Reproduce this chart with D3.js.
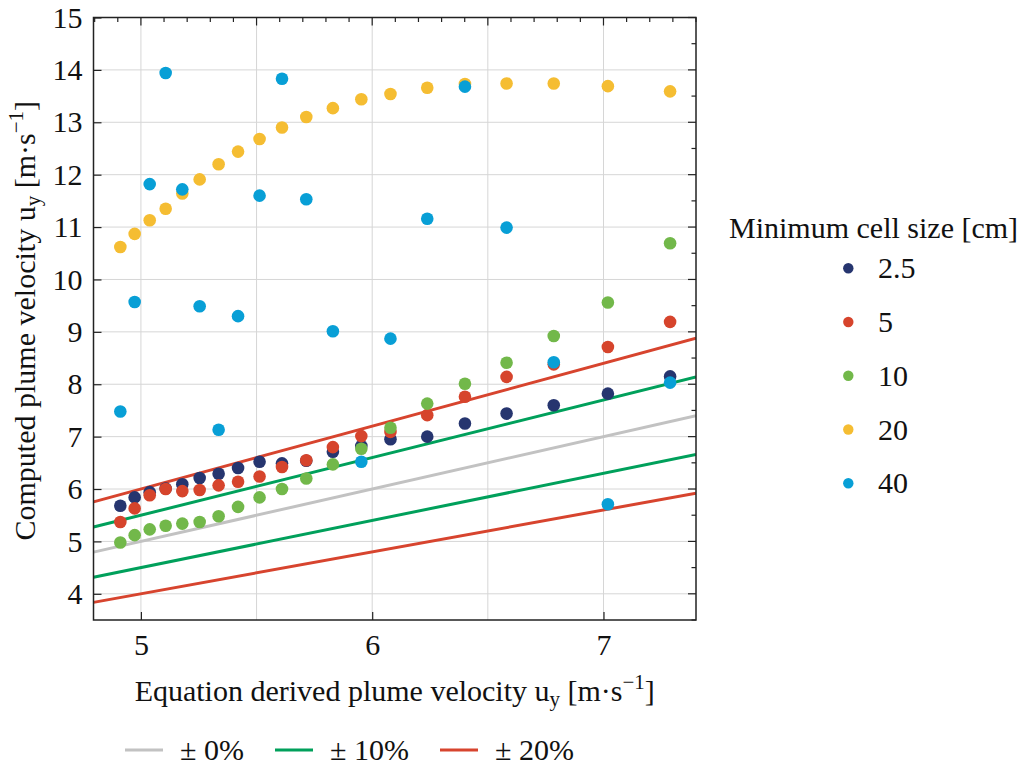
<!DOCTYPE html>
<html>
<head>
<meta charset="utf-8">
<script src="https://cdn.jsdelivr.net/npm/d3@7"></script>
<style>
  @font-face { font-family: "ChartSerif"; src: local("Liberation Serif"), local("LiberationSerif"), local("LiberationSerif-Regular"), local("Times New Roman"), local("Tinos"); }
  html, body { margin: 0; padding: 0; background: #fff; }
</style>
</head>
<body>
<svg id="chart" width="1029" height="767"></svg>
<script>
// ---- data ----
const xValues = [4.911, 4.973, 5.038, 5.107, 5.179, 5.254, 5.336, 5.420, 5.513, 5.610,
                 5.715, 5.830, 5.953, 6.079, 6.238, 6.401, 6.581, 6.785, 7.019, 7.288];
const cellSizes = ["2.5", "5", "10", "20", "40"];
const series25 = [5.68, 5.84, 5.94, 6.01, 6.09, 6.21, 6.29, 6.40, 6.52, 6.49,
                  6.54, 6.71, 6.82, 6.95, 7.00, 7.25, 7.44, 7.60, 7.82, 8.15];
const series5  = [5.37, 5.63, 5.88, 6.00, 5.96, 5.98, 6.07, 6.14, 6.24, 6.42,
                  6.55, 6.80, 7.01, 7.09, 7.41, 7.76, 8.14, 8.38, 8.71, 9.19];
const series10 = [4.98, 5.12, 5.23, 5.30, 5.34, 5.37, 5.48, 5.66, 5.84, 6.00,
                  6.20, 6.47, 6.77, 7.17, 7.63, 8.01, 8.41, 8.92, 9.56, 10.69];
const series20 = [10.62, 10.87, 11.13, 11.35, 11.64, 11.91, 12.20, 12.44, 12.68, 12.90,
                  13.10, 13.27, 13.44, 13.54, 13.66, 13.73, 13.74, 13.74, 13.69, 13.59];
const series40 = [7.48, 9.57, 11.82, 13.94, 11.72, 9.49, 7.13, 9.30, 11.60, 13.83,
                  11.53, 9.01, 6.52, 8.87, 11.16, 13.68, 10.99, 8.42, 5.71, 8.03];
const bandFactors = [0, 0.10, 0.20];
const bandLabels = ["± 0%", "± 10%", "± 20%"];
const xTickLabels = [5, 6, 7];
const yTickLabels = [4, 5, 6, 7, 8, 9, 10, 11, 12, 13, 14, 15];

// ---- styles ----
const FAM = '"Liberation Serif"';
const seriesColors = ["#26356f", "#d6442c", "#72b84a", "#f5bd32", "#089fd6"];
const bandColors = ["#c2c2c2", "#00a05b", "#d7442e"];
const allSeries = [series25, series5, series10, series20, series40];

function serif(sel) {
  return sel.style("font-family", FAM);
}

const svg = d3.select("#chart");
const L = 93.5, R = 696, T = 17.5, B = 620;
const x = d3.scaleLinear().domain([4.795, 7.4]).range([L, R]);
const y = d3.scaleLinear().domain([3.5, 15]).range([B, T]);

svg.append("defs").append("clipPath").attr("id", "clip")
  .append("rect").attr("x", L).attr("y", T).attr("width", R - L).attr("height", B - T);

// grid
const grid = svg.append("g").attr("stroke", "#d6d6d6").attr("stroke-width", 1);
grid.selectAll("line.v").data([5, 5.5, 6, 6.5, 7]).join("line")
  .attr("x1", d => x(d)).attr("x2", d => x(d)).attr("y1", T).attr("y2", B);
grid.selectAll("line.h").data(yTickLabels).join("line")
  .attr("y1", d => y(d)).attr("y2", d => y(d)).attr("x1", L).attr("x2", R);

// band lines
const plot = svg.append("g").attr("clip-path", "url(#clip)");
const xd = x.domain();
const bandLines = [];
bandFactors.forEach((f, i) => {
  const factors = f === 0 ? [1] : [1 + f, 1 - f];
  factors.forEach(k => bandLines.push({ k, color: bandColors[i] }));
});
const lineGen = d3.line().x(d => x(d[0])).y(d => y(d[1]));
plot.selectAll("path.band").data(bandLines).join("path")
  .attr("fill", "none")
  .attr("stroke", d => d.color)
  .attr("stroke-width", 3)
  .attr("d", d => lineGen(xd.map(v => [v, v * d.k])));

// points
allSeries.forEach((s, i) => {
  plot.append("g").selectAll("circle").data(s).join("circle")
    .attr("cx", (d, j) => x(xValues[j]))
    .attr("cy", d => y(d))
    .attr("r", 6.3)
    .attr("fill", seriesColors[i]);
});

// axes
const fs = 30;
const axB = svg.append("g").attr("transform", `translate(0,${B})`)
  .call(d3.axisBottom(x).tickValues(xTickLabels).tickSizeInner(-8).tickSizeOuter(0).tickPadding(14).tickFormat(d3.format("d")));
const axL = svg.append("g").attr("transform", `translate(${L},0)`)
  .call(d3.axisLeft(y).tickValues(yTickLabels).tickSizeInner(-8).tickSizeOuter(0).tickPadding(11).tickFormat(d3.format("d")));
[axB, axL].forEach(a => {
  a.attr("font-family", null).attr("font-size", null);
  a.select(".domain").remove();
  a.selectAll(".tick line").attr("stroke", "#222").attr("stroke-width", 1.2);
  serif(a.selectAll(".tick text")).attr("font-size", fs).attr("fill", "#111");
});

// top ticks every 0.1
const topTicks = d3.range(48, 75).map(v => v / 10);
svg.append("g").selectAll("line").data(topTicks).join("line")
  .attr("x1", d => x(d)).attr("x2", d => x(d))
  .attr("y1", T).attr("y2", d => T + (Math.abs(d * 2 - Math.round(d * 2)) < 1e-6 ? 8 : 4.5))
  .attr("stroke", "#222").attr("stroke-width", 1.2);
// right ticks every 0.5
const rightTicks = d3.range(7, 31).map(v => v / 2);
svg.append("g").selectAll("line").data(rightTicks).join("line")
  .attr("y1", d => y(d)).attr("y2", d => y(d))
  .attr("x1", R).attr("x2", d => R - (Number.isInteger(d) ? 8 : 4.5))
  .attr("stroke", "#222").attr("stroke-width", 1.2);

// frame
svg.append("rect").attr("x", L).attr("y", T).attr("width", R - L).attr("height", B - T)
  .attr("fill", "none").attr("stroke", "#222").attr("stroke-width", 1.5);

// axis titles
function unitLabel(sel, main) {
  sel.append("tspan").text(main + " u");
  sel.append("tspan").attr("font-size", fs * 0.7).attr("dy", 5).text("y");
  sel.append("tspan").attr("dy", -5).text(" [m·s");
  sel.append("tspan").attr("font-size", fs * 0.7).attr("dy", -12).text("−1");
  sel.append("tspan").attr("dy", 12).text("]");
}
const xt = serif(svg.append("text")).attr("x", (L + R) / 2).attr("y", 701).attr("text-anchor", "middle")
  .attr("font-size", fs).attr("fill", "#111");
unitLabel(xt, "Equation derived plume velocity");

const yt = serif(svg.append("text")).attr("transform", `translate(35,${(T + B) / 2 + 2}) rotate(-90)`)
  .attr("text-anchor", "middle").attr("font-size", fs).attr("fill", "#111");
unitLabel(yt, "Computed plume velocity");

// right legend
const lg = svg.append("g");
serif(lg.append("text")).attr("x", 729).attr("y", 238).attr("font-size", fs).attr("fill", "#111")
  .text("Minimum cell size [cm]");
cellSizes.forEach((c, i) => {
  const cy = 268.3 + i * 53.75;
  lg.append("circle").attr("cx", 848.3).attr("cy", cy).attr("r", 5.2).attr("fill", seriesColors[i]);
  serif(lg.append("text")).attr("x", 878).attr("y", cy + 10).attr("font-size", fs).attr("fill", "#111")
    .text(c);
});

// bottom legend
const bl = svg.append("g");
const blX = [125, 275, 440];
bandLabels.forEach((t, i) => {
  bl.append("line").attr("x1", blX[i]).attr("x2", blX[i] + 38).attr("y1", 750).attr("y2", 750)
    .attr("stroke", bandColors[i]).attr("stroke-width", 3);
  serif(bl.append("text")).attr("x", blX[i] + 55).attr("y", 760).attr("font-size", fs).attr("fill", "#111")
    .text(t);
});
</script>
</body>
</html>
